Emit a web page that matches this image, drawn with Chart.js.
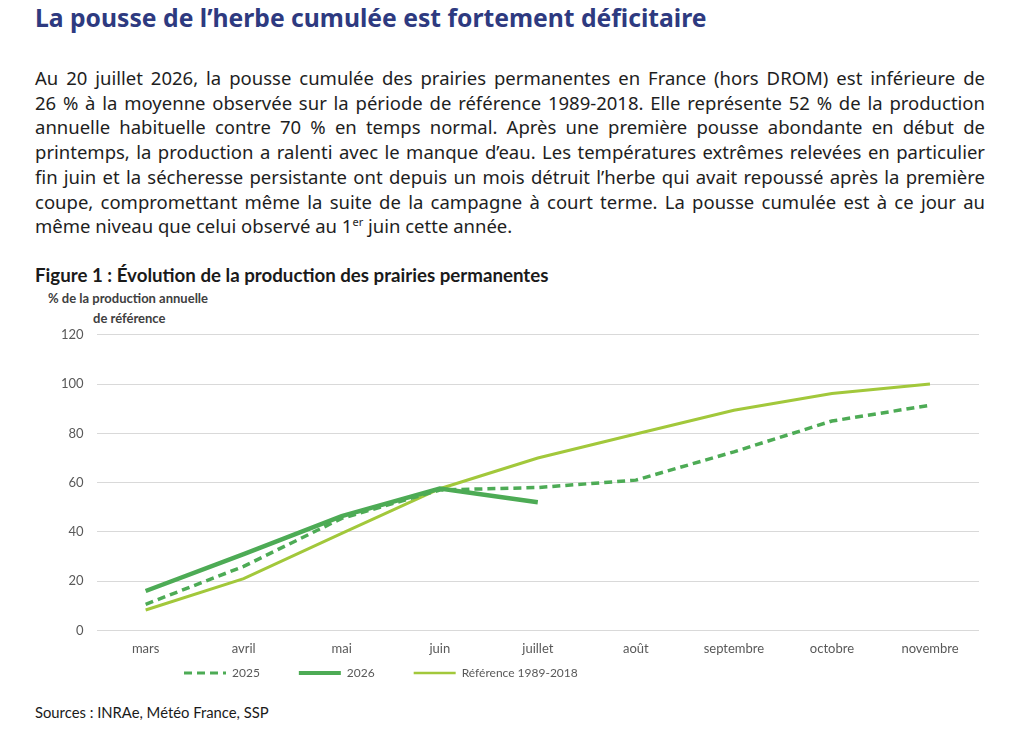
<!DOCTYPE html>
<html lang="fr">
<head>
<meta charset="utf-8">
<title>Évolution de la production des prairies permanentes</title>
<script src="https://cdn.jsdelivr.net/npm/chart.js@4/dist/chart.umd.min.js"></script>
<style>
    body { margin: 0; background: #fff; width: 1024px; height: 741px; position: relative; overflow: hidden; font-family: "Noto Sans", sans-serif; }
    h1 { position: absolute; left: 35px; top: 1px; margin: 0; font-size: 24.7px; font-weight: bold; color: #2e3a80; }
    .texte { position: absolute; left: 35px; top: 66px; width: 950px; font-size: 18.5px; line-height: 24.7px; color: #1e1e1e; }
    .texte div { white-space: nowrap; text-align: justify; text-align-last: justify; }
    .texte div.last { text-align-last: left; }
    .texte sup { font-size: 11px; line-height: 0; }
    .fig-titre { position: absolute; left: 35px; top: 264px; font-family: Lato, sans-serif; font-weight: bold; font-size: 18.7px; color: #1a1a1a; }
    .unite { position: absolute; font-family: Lato, sans-serif; font-weight: bold; font-size: 13px; color: #404040; }
    .sources { position: absolute; left: 35px; top: 703px; font-family: Lato, sans-serif; font-size: 14.8px; color: #1a1a1a; }
    #graph { position: absolute; left: 30px; top: 314px; width: 970px; height: 366px; }
</style>
</head>
<body>
<h1>La pousse de l’herbe cumulée est fortement déficitaire</h1>
<div class="texte">
    <div>Au 20 juillet 2026, la pousse cumulée des prairies permanentes en France (hors DROM) est inférieure de</div>
    <div>26 % à la moyenne observée sur la période de référence 1989-2018. Elle représente 52 % de la production</div>
    <div>annuelle habituelle contre 70 % en temps normal. Après une première pousse abondante en début de</div>
    <div>printemps, la production a ralenti avec le manque d’eau. Les températures extrêmes relevées en particulier</div>
    <div>fin juin et la sécheresse persistante ont depuis un mois détruit l’herbe qui avait repoussé après la première</div>
    <div>coupe, compromettant même la suite de la campagne à court terme. La pousse cumulée est à ce jour au</div>
    <div class="last">même niveau que celui observé au 1<sup>er</sup> juin cette année.</div>
</div>
<div class="fig-titre">Figure 1 : Évolution de la production des prairies permanentes</div>
<div class="unite" style="left:48px; top:290px;">% de la production annuelle</div>
<div class="unite" style="left:93px; top:310px;">de référence</div>
<div id="graph"><canvas id="chart"></canvas></div>
<div class="sources">Sources : INRAe, Météo France, SSP</div>

<script>
let mois = ['mars', 'avril', 'mai', 'juin', 'juillet', 'août', 'septembre', 'octobre', 'novembre'];
let serie2025 = [10.6, 26, 45.5, 57, 58, 61, 72.5, 85, 91.4];
let serie2026 = [16, 31, 46.4, 57.6, 52];
let reference = [8.3, 21, 39.4, 57.5, 70, 79.7, 89.4, 96.2, 100];
let yTicks = [0, 20, 40, 60, 80, 100, 120];

let vertFonce = '#4dab55';
let vertClair = '#a2c83b';

// place la legende comme sur l'original (a gauche, juste sous les mois)
const legendShift = {
    id: 'legendShift',
    afterLayout(chart) {
        chart.legend.left = 115;
        chart.legend.top = 314;
    }
};

new Chart(document.getElementById('chart'), {
    type: 'line',
    data: {
        labels: mois,
        datasets: [
            {
                label: '2025',
                data: serie2025,
                borderColor: vertFonce,
                borderWidth: 3.5,
                borderDash: [8, 5],
                pointRadius: 0,
                tension: 0
            },
            {
                label: '2026',
                data: serie2026,
                borderColor: vertFonce,
                borderWidth: 4.5,
                pointRadius: 0,
                tension: 0
            },
            {
                label: 'Référence 1989-2018',
                data: reference,
                borderColor: vertClair,
                borderWidth: 3,
                pointRadius: 0,
                tension: 0
            }
        ]
    },
    options: {
        responsive: true,
        maintainAspectRatio: false,
        animation: false,
        layout: { padding: { top: 6, right: 21, left: 18, bottom: 0 } },
        scales: {
            x: {
                offset: true,
                grid: { display: false },
                border: { display: false },
                ticks: {
                    color: '#595959',
                    font: { family: 'Lato', size: 13 },
                    maxRotation: 0,
                    padding: 3
                }
            },
            y: {
                min: 0,
                max: 120,
                afterBuildTicks(axis) {
                    axis.ticks = yTicks.map(v => ({ value: v }));
                },
                grid: { color: '#d9d9d9', lineWidth: 1, drawTicks: false },
                border: { display: false },
                ticks: {
                    color: '#595959',
                    font: { family: 'Lato', size: 13 },
                    padding: 13
                }
            }
        },
        plugins: {
            legend: {
                position: 'bottom',
                align: 'start',
                maxHeight: 20,
                labels: {
                    usePointStyle: true,
                    pointStyle: 'line',
                    pointStyleWidth: 42,
                    padding: 39,
                    color: '#595959',
                    font: { family: 'Lato', size: 12 },
                    generateLabels(chart) {
                        let items = Chart.defaults.plugins.legend.labels.generateLabels(chart);
                        items.forEach(item => {
                            let ds = chart.data.datasets[item.datasetIndex];
                            item.lineDash = ds.borderDash || [];
                            item.lineWidth = ds.borderWidth - 0.5;
                            item.strokeStyle = ds.borderColor;
                        });
                        return items;
                    }
                }
            },
            tooltip: { enabled: false }
        }
    },
    plugins: [legendShift]
});
</script>
</body>
</html>
